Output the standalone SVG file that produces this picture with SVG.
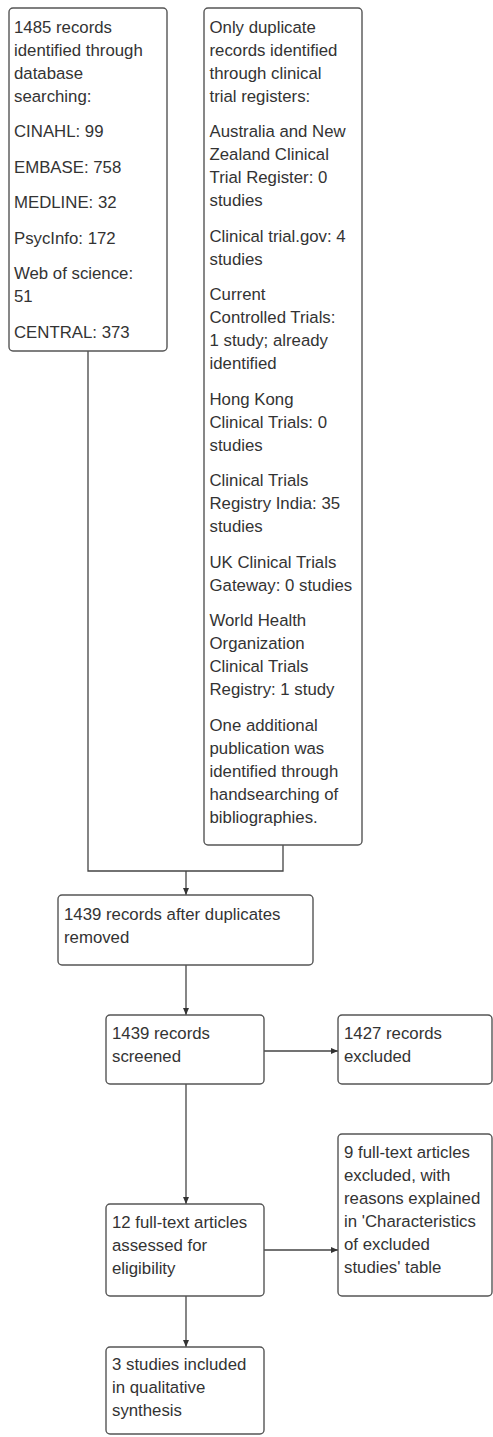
<svg xmlns="http://www.w3.org/2000/svg" width="493" height="1437" viewBox="0 0 493 1437">
<style>
.box{fill:#fff;stroke:#555;stroke-width:1.4}
.t{font-family:"Liberation Sans",Arial,sans-serif;font-size:16.8px;fill:#333}
.c{fill:none;stroke:#444;stroke-width:1.3}
</style>
<defs>
<marker id="ah" markerUnits="userSpaceOnUse" markerWidth="7" markerHeight="6" refX="7" refY="3" orient="auto">
<path d="M0,0 L7,3 L0,6 z" fill="#333"/>
</marker>
</defs>
<rect width="493" height="1437" fill="#fff"/>
<g id="connectors">
<path class="c" d="M88,351 V871 H283 V845"/>
<line class="c" x1="186" y1="871" x2="186" y2="895" marker-end="url(#ah)"/>
<line class="c" x1="186" y1="965" x2="186" y2="1015" marker-end="url(#ah)"/>
<line class="c" x1="264" y1="1051" x2="338" y2="1051" marker-end="url(#ah)"/>
<line class="c" x1="186" y1="1084" x2="186" y2="1204" marker-end="url(#ah)"/>
<line class="c" x1="264" y1="1250" x2="338" y2="1250" marker-end="url(#ah)"/>
<line class="c" x1="186" y1="1296" x2="186" y2="1347" marker-end="url(#ah)"/>
</g>
<g id="n1">
<rect class="box" x="9" y="8" width="158" height="343" rx="4"/>
<text class="t">
<tspan x="14" y="32.5">1485 records</tspan>
<tspan x="14" y="55.5">identified through</tspan>
<tspan x="14" y="78.5">database</tspan>
<tspan x="14" y="101.5">searching:</tspan>
<tspan x="14" y="137">CINAHL: 99</tspan>
<tspan x="14" y="172.5">EMBASE: 758</tspan>
<tspan x="14" y="208">MEDLINE: 32</tspan>
<tspan x="14" y="243.5">PsycInfo: 172</tspan>
<tspan x="14" y="279">Web of science:</tspan>
<tspan x="14" y="302">51</tspan>
<tspan x="14" y="337.5">CENTRAL: 373</tspan>
</text>
</g>
<g id="n2">
<rect class="box" x="204" y="8" width="158" height="837" rx="4"/>
<text class="t">
<tspan x="209.5" y="32.5">Only duplicate</tspan>
<tspan x="209.5" y="55.5">records identified</tspan>
<tspan x="209.5" y="78.5">through clinical</tspan>
<tspan x="209.5" y="101.5">trial registers:</tspan>
<tspan x="209.5" y="137">Australia and New</tspan>
<tspan x="209.5" y="160">Zealand Clinical</tspan>
<tspan x="209.5" y="183">Trial Register: 0</tspan>
<tspan x="209.5" y="206">studies</tspan>
<tspan x="209.5" y="241.5">Clinical trial.gov: 4</tspan>
<tspan x="209.5" y="264.5">studies</tspan>
<tspan x="209.5" y="300">Current</tspan>
<tspan x="209.5" y="323">Controlled Trials:</tspan>
<tspan x="209.5" y="346">1 study; already</tspan>
<tspan x="209.5" y="369">identified</tspan>
<tspan x="209.5" y="404.5">Hong Kong</tspan>
<tspan x="209.5" y="427.5">Clinical Trials: 0</tspan>
<tspan x="209.5" y="450.5">studies</tspan>
<tspan x="209.5" y="486">Clinical Trials</tspan>
<tspan x="209.5" y="509">Registry India: 35</tspan>
<tspan x="209.5" y="532">studies</tspan>
<tspan x="209.5" y="567.5">UK Clinical Trials</tspan>
<tspan x="209.5" y="590.5">Gateway: 0 studies</tspan>
<tspan x="209.5" y="626">World Health</tspan>
<tspan x="209.5" y="649">Organization</tspan>
<tspan x="209.5" y="672">Clinical Trials</tspan>
<tspan x="209.5" y="695">Registry: 1 study</tspan>
<tspan x="209.5" y="730.5">One additional</tspan>
<tspan x="209.5" y="753.5">publication was</tspan>
<tspan x="209.5" y="776.5">identified through</tspan>
<tspan x="209.5" y="799.5">handsearching of</tspan>
<tspan x="209.5" y="822.5">bibliographies.</tspan>
</text>
</g>
<g id="n3">
<rect class="box" x="58" y="895" width="255" height="70" rx="4"/>
<text class="t">
<tspan x="64" y="919.5">1439 records after duplicates</tspan>
<tspan x="64" y="942.5">removed</tspan>
</text>
</g>
<g id="n4">
<rect class="box" x="106" y="1015" width="158" height="69" rx="4"/>
<text class="t">
<tspan x="112" y="1038.5">1439 records</tspan>
<tspan x="112" y="1061.5">screened</tspan>
</text>
</g>
<g id="n5">
<rect class="box" x="338" y="1015" width="154" height="69" rx="4"/>
<text class="t">
<tspan x="344" y="1038.5">1427 records</tspan>
<tspan x="344" y="1061.5">excluded</tspan>
</text>
</g>
<g id="n6">
<rect class="box" x="106" y="1204" width="158" height="92" rx="4"/>
<text class="t">
<tspan x="112" y="1227.5">12 full-text articles</tspan>
<tspan x="112" y="1250.5">assessed for</tspan>
<tspan x="112" y="1273.5">eligibility</tspan>
</text>
</g>
<g id="n7">
<rect class="box" x="338" y="1134" width="154" height="162" rx="4"/>
<text class="t">
<tspan x="344" y="1157.5">9 full-text articles</tspan>
<tspan x="344" y="1180.5">excluded, with</tspan>
<tspan x="344" y="1203.5">reasons explained</tspan>
<tspan x="344" y="1226.5">in 'Characteristics</tspan>
<tspan x="344" y="1249.5">of excluded</tspan>
<tspan x="344" y="1272.5">studies' table</tspan>
</text>
</g>
<g id="n8">
<rect class="box" x="106" y="1347" width="158" height="87" rx="4"/>
<text class="t">
<tspan x="112" y="1369.5">3 studies included</tspan>
<tspan x="112" y="1392.5">in qualitative</tspan>
<tspan x="112" y="1415.5">synthesis</tspan>
</text>
</g>
</svg>
